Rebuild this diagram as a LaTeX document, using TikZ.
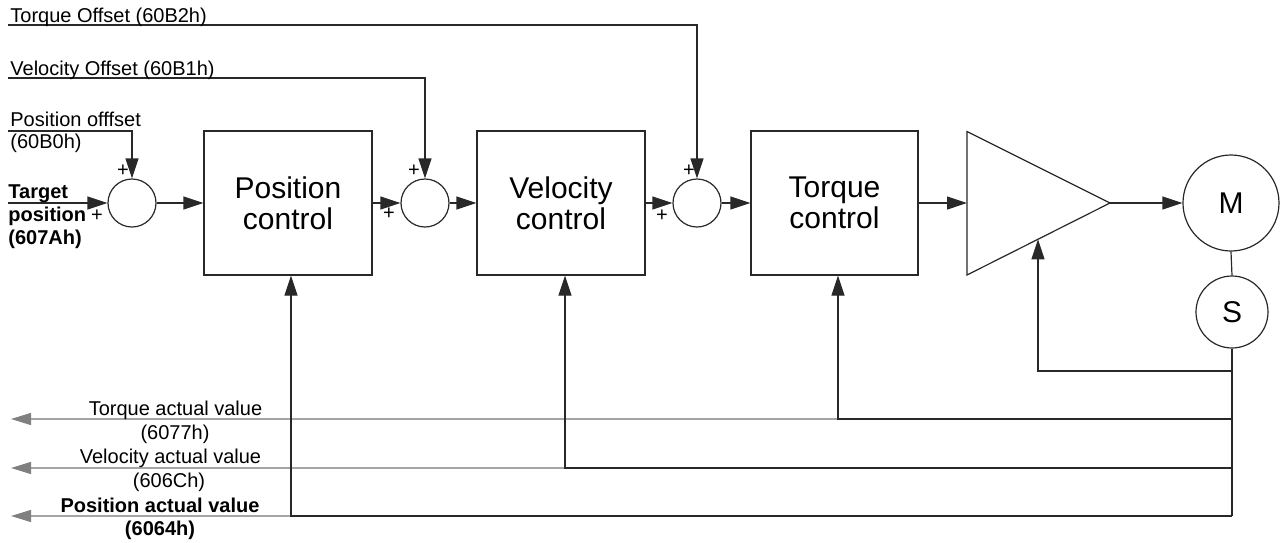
\documentclass[tikz,border=0pt]{standalone}
\usepackage{fontspec}
\setmainfont{Liberation Sans}
\usetikzlibrary{arrows.meta,calc}
\definecolor{ln}{RGB}{40,40,40}
\definecolor{fbline}{RGB}{165,165,165}
\definecolor{fbhead}{RGB}{128,128,128}
\tikzset{
 wire/.style={draw=ln, line width=0.6pt},
 arr/.style={wire, -{Triangle[length=10pt,width=6.5pt]}},
 fb/.style={draw=fbline, line width=0.6pt, -{Triangle[length=10pt,width=6pt,color=fbhead]}},
 block/.style={draw=ln, line width=0.6pt, minimum width=84pt, minimum height=72pt, inner sep=0pt, align=center, font=\fontsize{15}{15.5}\selectfont},
 sumnode/.style={draw=ln, line width=0.6pt, circle, minimum size=24pt, inner sep=0pt},
 motor/.style={draw=ln, line width=0.6pt, circle, inner sep=0pt, font=\fontsize{15}{15}\selectfont},
 lbl/.style={inner sep=0pt, font=\fontsize{10}{12}\selectfont},
 blbl/.style={inner sep=0pt, font=\fontsize{10}{12}\selectfont\bfseries},
 plus/.style={inner sep=0pt, font=\fontsize{10}{10}\selectfont},
}
\begin{document}
\begin{tikzpicture}[x=0.5pt,y=-0.5pt]
\useasboundingbox (0,0) rectangle (1282,542);
% blocks
\node[block] (pos) at (288,203) {Position\\control};
\node[block] (vel) at (561,203) {Velocity\\control};
\node[block, minimum width=83.5pt] (tor) at (834.5,203) {Torque\\control};
\node[sumnode] (s1) at (132,203) {};
\node[sumnode] (s2) at (425,203) {};
\node[sumnode] (s3) at (697,203) {};
\node[motor, minimum size=48pt] (M) at (1231,203) {M};
\node[motor, minimum size=36pt] (S) at (1232,312) {S};
% amplifier
\coordinate (ampA) at (967,131.5);
\coordinate (ampB) at (967,275);
\coordinate (ampT) at (1110,203);
\coordinate (ampIn) at (967,203);
\coordinate (ampFb) at (1038,239.3);
\draw[wire, line join=miter] (ampA) -- (ampT) -- (ampB) -- cycle;
% inputs
\coordinate (tpin) at (8,203);
\coordinate (poin) at (8,131);
\coordinate (voin) at (8,78);
\coordinate (toin) at (8,25);
\draw[arr] (tpin) -- (s1.west);
\draw[arr] (poin) -- (poin -| s1) -- (s1.north);
\draw[arr] (voin) -- (voin -| s2) -- (s2.north);
\draw[arr] (toin) -- (toin -| s3) -- (s3.north);
% forward path
\draw[arr] (s1.east) -- (pos.west);
\draw[arr] (pos.east) -- (s2.west);
\draw[arr] (s2.east) -- (vel.west);
\draw[arr] (vel.east) -- (s3.west);
\draw[arr] (s3.east) -- (tor.west);
\draw[arr] (tor.east) -- (ampIn);
\draw[arr] (ampT) -- (M.west);
\draw[wire] (M.south) -- (S.north);
% feedback
\coordinate (jA) at (1232,371);
\coordinate (jT) at (1232,419);
\coordinate (jV) at (1232,468);
\coordinate (jP) at (1232,516);
\coordinate (kT) at (838,419);
\coordinate (kV) at (565,468);
\coordinate (kP) at (291,516);
\coordinate (oT) at (11,419);
\coordinate (oV) at (11,468);
\coordinate (oP) at (11,516);
\draw[wire] (S.south) -- (jP);
\draw[arr] (jA) -- (jA -| ampFb) -- (ampFb);
\draw[fb] (kT) -- (oT);
\draw[fb] (kV) -- (oV);
\draw[fb] (kP) -- (oP);
\draw[arr] (jT) -- (kT) -- (kT |- tor.south);
\draw[arr] (jV) -- (kV) -- (kV |- vel.south);
\draw[arr] (jP) -- (kP) -- (kP |- pos.south);
% labels top
\node[lbl, anchor=base west] (lto) at (10,22.5) {Torque Offset (60B2h)};
\node[lbl, anchor=base west] (lvo) at (10,75.5) {Velocity Offset (60B1h)};
\node[lbl, anchor=base west] (lpo1) at (10,126) {Position offfset};
\node[lbl, anchor=base west] (lpo2) at (10,148) {(60B0h)};
\node[blbl, anchor=base west] (ltp1) at (8,198) {Target};
\node[blbl, anchor=base west] (ltp2) at (8,221) {position};
\node[blbl, anchor=base west] (ltp3) at (8,244) {(607Ah)};
% labels bottom
\node[lbl, anchor=base] (lta1) at (175.5,415) {Torque actual value};
\node[lbl, anchor=base] (lta2) at (175,439) {(6077h)};
\node[lbl, anchor=base] (lva1) at (170.5,463) {Velocity actual value};
\node[lbl, anchor=base] (lva2) at (169,487) {(606Ch)};
\node[blbl, anchor=base] (lpa1) at (160,512) {Position actual value};
\node[blbl, anchor=base] (lpa2) at (160,535) {(6064h)};
% plus signs
\node[plus] (p1a) at (123,171) {+};
\node[plus] (p1b) at (97,216) {+};
\node[plus] (p2a) at (414,171) {+};
\node[plus] (p2b) at (389,214) {+};
\node[plus] (p3a) at (689,171) {+};
\node[plus] (p3b) at (662,216) {+};
\end{tikzpicture}
\end{document}
